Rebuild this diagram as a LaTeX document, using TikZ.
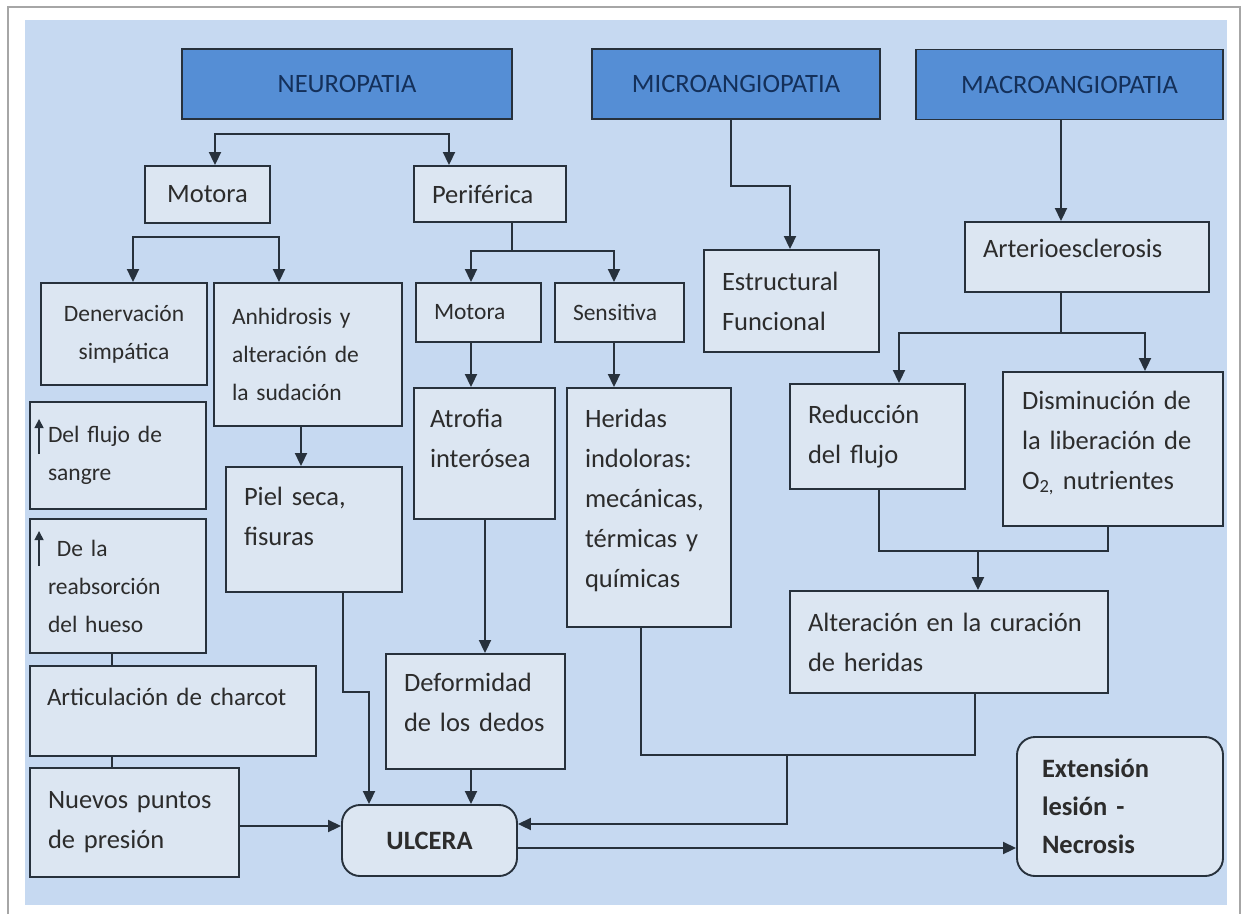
\documentclass[tikz,border=0pt]{standalone}
\usepackage{fontspec}
\setmainfont{Carlito}
\usetikzlibrary{arrows.meta}

\definecolor{bgblue}{HTML}{C6D9F1}
\definecolor{boxfill}{HTML}{DCE6F2}
\definecolor{headblue}{HTML}{558ED5}
\definecolor{edge}{HTML}{27313C}
\definecolor{ink}{HTML}{2C2C2C}
\definecolor{headink}{HTML}{14305A}

% extra space under the last line, lifts the text in its box
\newcommand{\botpad}[1]{\par\kern#1pt}

\tikzset{
  box/.style={draw=edge, line width=1.9pt, fill=boxfill, text=ink, align=left,
    inner xsep=18pt, inner ysep=0pt, font=\fontsize{26.5}{40}\selectfont},
  sbox/.style={box, font=\fontsize{23.5}{38}\selectfont},
  head/.style={box, fill=headblue, text=headink, align=center},
  endbox/.style={box, rounded corners=18pt, align=center,
    font=\bfseries\fontsize{26.5}{38}\selectfont},
  lnk/.style={draw=edge, line width=1.9pt},
  arr/.style={lnk, -{Triangle[length=13pt,width=12pt]}},
  twoarr/.style={lnk, {Triangle[length=13pt,width=12pt]}-{Triangle[length=13pt,width=12pt]}},
  uparr/.style={lnk, line width=1.6pt, -{Triangle[length=9pt,width=9pt]}}
}

\begin{document}
\begin{tikzpicture}[x=1pt,y=-1pt]
\useasboundingbox (0,0) rectangle (1243,914);
\fill[white] (0,0) rectangle (1243,914);
\draw[gray!70, line width=1.5pt] (8,914) -- (8,7) -- (1240,7) -- (1240,914);
\fill[bgblue] (25,20) rectangle (1227,905);

% headers
\node[head, minimum width=330pt, minimum height=70pt] (neuro) at (347,84) {NEUROPATIA};
\node[head, minimum width=288pt, minimum height=70pt] (micro) at (736,84) {MICROANGIOPATIA};
\node[head, minimum width=307pt, minimum height=70pt] (macro) at (1069.5,84.5) {MACROANGIOPATIA};

% neuropatia branch
\node[box, align=center, minimum width=125pt, minimum height=57pt] (motoraA) at (207.5,194.5) {Motora};
\node[box, text width=116pt, minimum width=152pt, minimum height=56pt] (perif) at (490,194) {Periférica};
\node[sbox, align=center, text width=140pt, inner xsep=13pt, minimum width=166pt, minimum height=102pt] (denerv) at (124,334) {Denervación\\simpática};
\node[sbox, text width=152pt, minimum width=188pt, minimum height=143pt] (anhid) at (308,354.5) {Anhidrosis y\\alteración de\\la sudación};
\node[sbox, text width=140pt, minimum width=176pt, minimum height=107pt] (flujo) at (118,455.5) {Del flujo de\\sangre};
\node[sbox, text width=140pt, minimum width=176pt, minimum height=134pt] (reabs) at (118,586) {\hspace*{9pt}De la\\reabsorción\\del hueso};
\node[box, font=\fontsize{25}{38}\selectfont, text width=252pt, inner xsep=17pt, minimum width=286pt, minimum height=90pt] (charcot) at (173,711) {Articulación de charcot\botpad{28}};
\node[box, text width=173pt, minimum width=209pt, minimum height=109pt] (nuevos) at (134.5,822.5) {Nuevos puntos\\de presión};
\node[box, text width=140pt, minimum width=176pt, minimum height=125pt] (piel) at (314,529.5) {Piel seca,\\fisuras\botpad{26}};
\node[sbox, text width=89pt, minimum width=125pt, minimum height=59pt] (motoraB) at (478.5,312.5) {Motora};
\node[sbox, text width=93pt, minimum width=129pt, minimum height=59pt] (sensit) at (619.5,312.5) {Sensitiva};
\node[box, text width=109pt, inner xsep=16pt, minimum width=141pt, minimum height=131pt] (atrofia) at (484.5,453.5) {Atrofia\\interósea\botpad{30}};
\node[box, text width=128pt, minimum width=164pt, minimum height=239pt] (heridas) at (649,507.5) {Heridas\\indoloras:\\mecánicas,\\térmicas y\\químicas\botpad{14}};
\node[box, text width=143pt, minimum width=179pt, minimum height=115pt] (deform) at (475.5,711.5) {Deformidad\\de los dedos\botpad{18}};
\node[endbox, minimum width=175pt, minimum height=71pt] (ulcera) at (429.5,840.5) {ULCERA};

% angiopatias
\node[box, text width=139pt, minimum width=175pt, minimum height=102pt] (estruct) at (791.5,301) {Estructural\\Funcional};
\node[box, text width=208pt, minimum width=244pt, minimum height=70pt] (arterio) at (1087,257) {Arterioesclerosis\botpad{18}};
\node[box, text width=139pt, minimum width=175pt, minimum height=105pt] (reduc) at (877.5,436.5) {Reducción\\del flujo};
\node[box, text width=182pt, inner xsep=19pt, minimum width=220pt, minimum height=154pt] (dismin) at (1113,449) {Disminución de\\la liberación de\\O\textsubscript{2,} nutrientes\botpad{12}};
\node[box, text width=282pt, minimum width=318pt, minimum height=102pt] (alter) at (949,642) {Alteración en la curación\\de heridas};
\node[endbox, align=left, text width=156pt, inner xsep=25pt, minimum width=206pt, minimum height=139pt] (extens) at (1120,806.5) {Extensión\\lesión -\\Necrosis};

% small arrows in the text
\draw[uparr] ([shift={(10,53)}]flujo.north west) -- ([shift={(10,18)}]flujo.north west);
\draw[uparr] ([shift={(10,48)}]reabs.north west) -- ([shift={(10,13)}]reabs.north west);

% connectors
\coordinate (nl) at (215,134);
\coordinate (nr) at (449,134);
\draw[twoarr] (motoraA.north -| nl) -- (nl) -- (nr) -- (perif.north -| nr);

\coordinate (ml) at (133,237);
\coordinate (mr) at (279,237);
\draw[twoarr] (denerv.north -| ml) -- (ml) -- (mr) -- (anhid.north -| mr);

\coordinate (pc) at (512,251);
\coordinate (pl) at (471,251);
\coordinate (pr) at (614,251);
\draw[lnk] (perif.south -| pc) -- (pc);
\draw[twoarr] (motoraB.north -| pl) -- (pl) -- (pr) -- (sensit.north -| pr);
\draw[arr] (motoraB.south -| pl) -- (atrofia.north -| pl);
\draw[arr] (sensit.south -| pr) -- (heridas.north -| pr);
\draw[arr] (deform.south -| pl) -- (ulcera.north -| pl);

\coordinate (ax) at (301,440);
\draw[arr] (anhid.south -| ax) -- (piel.north -| ax);

\coordinate (ql) at (343,692);
\coordinate (qr) at (369,692);
\draw[arr] (piel.south -| ql) -- (ql) -- (qr) -- (ulcera.north -| qr);

\coordinate (rx) at (485,580);
\draw[arr] (atrofia.south -| rx) -- (deform.north -| rx);

\coordinate (cx) at (112,660);
\draw[lnk] (reabs.south -| cx) -- (charcot.north -| cx);
\draw[lnk] (charcot.south -| cx) -- (nuevos.north -| cx);

\coordinate (sy) at (290,826);
\draw[arr] (nuevos.east |- sy) -- (ulcera.west |- sy);

\coordinate (hl) at (641,755);
\coordinate (hr) at (975,755);
\coordinate (hm) at (787,755);
\coordinate (hd) at (787,824);
\draw[lnk] (heridas.south -| hl) -- (hl) -- (hr) -- (alter.south -| hr);
\draw[arr] (hm) -- (hd) -- (ulcera.east |- hd);

\coordinate (ey) at (760,848);
\draw[arr] (ulcera.east |- ey) -- (extens.west |- ey);

\coordinate (mt) at (731,186);
\coordinate (mb) at (790,186);
\draw[arr] (micro.south -| mt) -- (mt) -- (mb) -- (estruct.north -| mb);

\coordinate (ka) at (1061,300);
\draw[arr] (macro.south -| ka) -- (arterio.north -| ka);
\coordinate (kc) at (1061,333);
\coordinate (kl) at (899,333);
\coordinate (kr) at (1145,333);
\draw[lnk] (arterio.south -| kc) -- (kc);
\draw[twoarr] (reduc.north -| kl) -- (kl) -- (kr) -- (dismin.north -| kr);

\coordinate (jl) at (879,551);
\coordinate (jr) at (1108,551);
\coordinate (jm) at (978,551);
\draw[lnk] (reduc.south -| jl) -- (jl) -- (jr) -- (dismin.south -| jr);
\draw[arr] (jm) -- (alter.north -| jm);
\end{tikzpicture}
\end{document}
